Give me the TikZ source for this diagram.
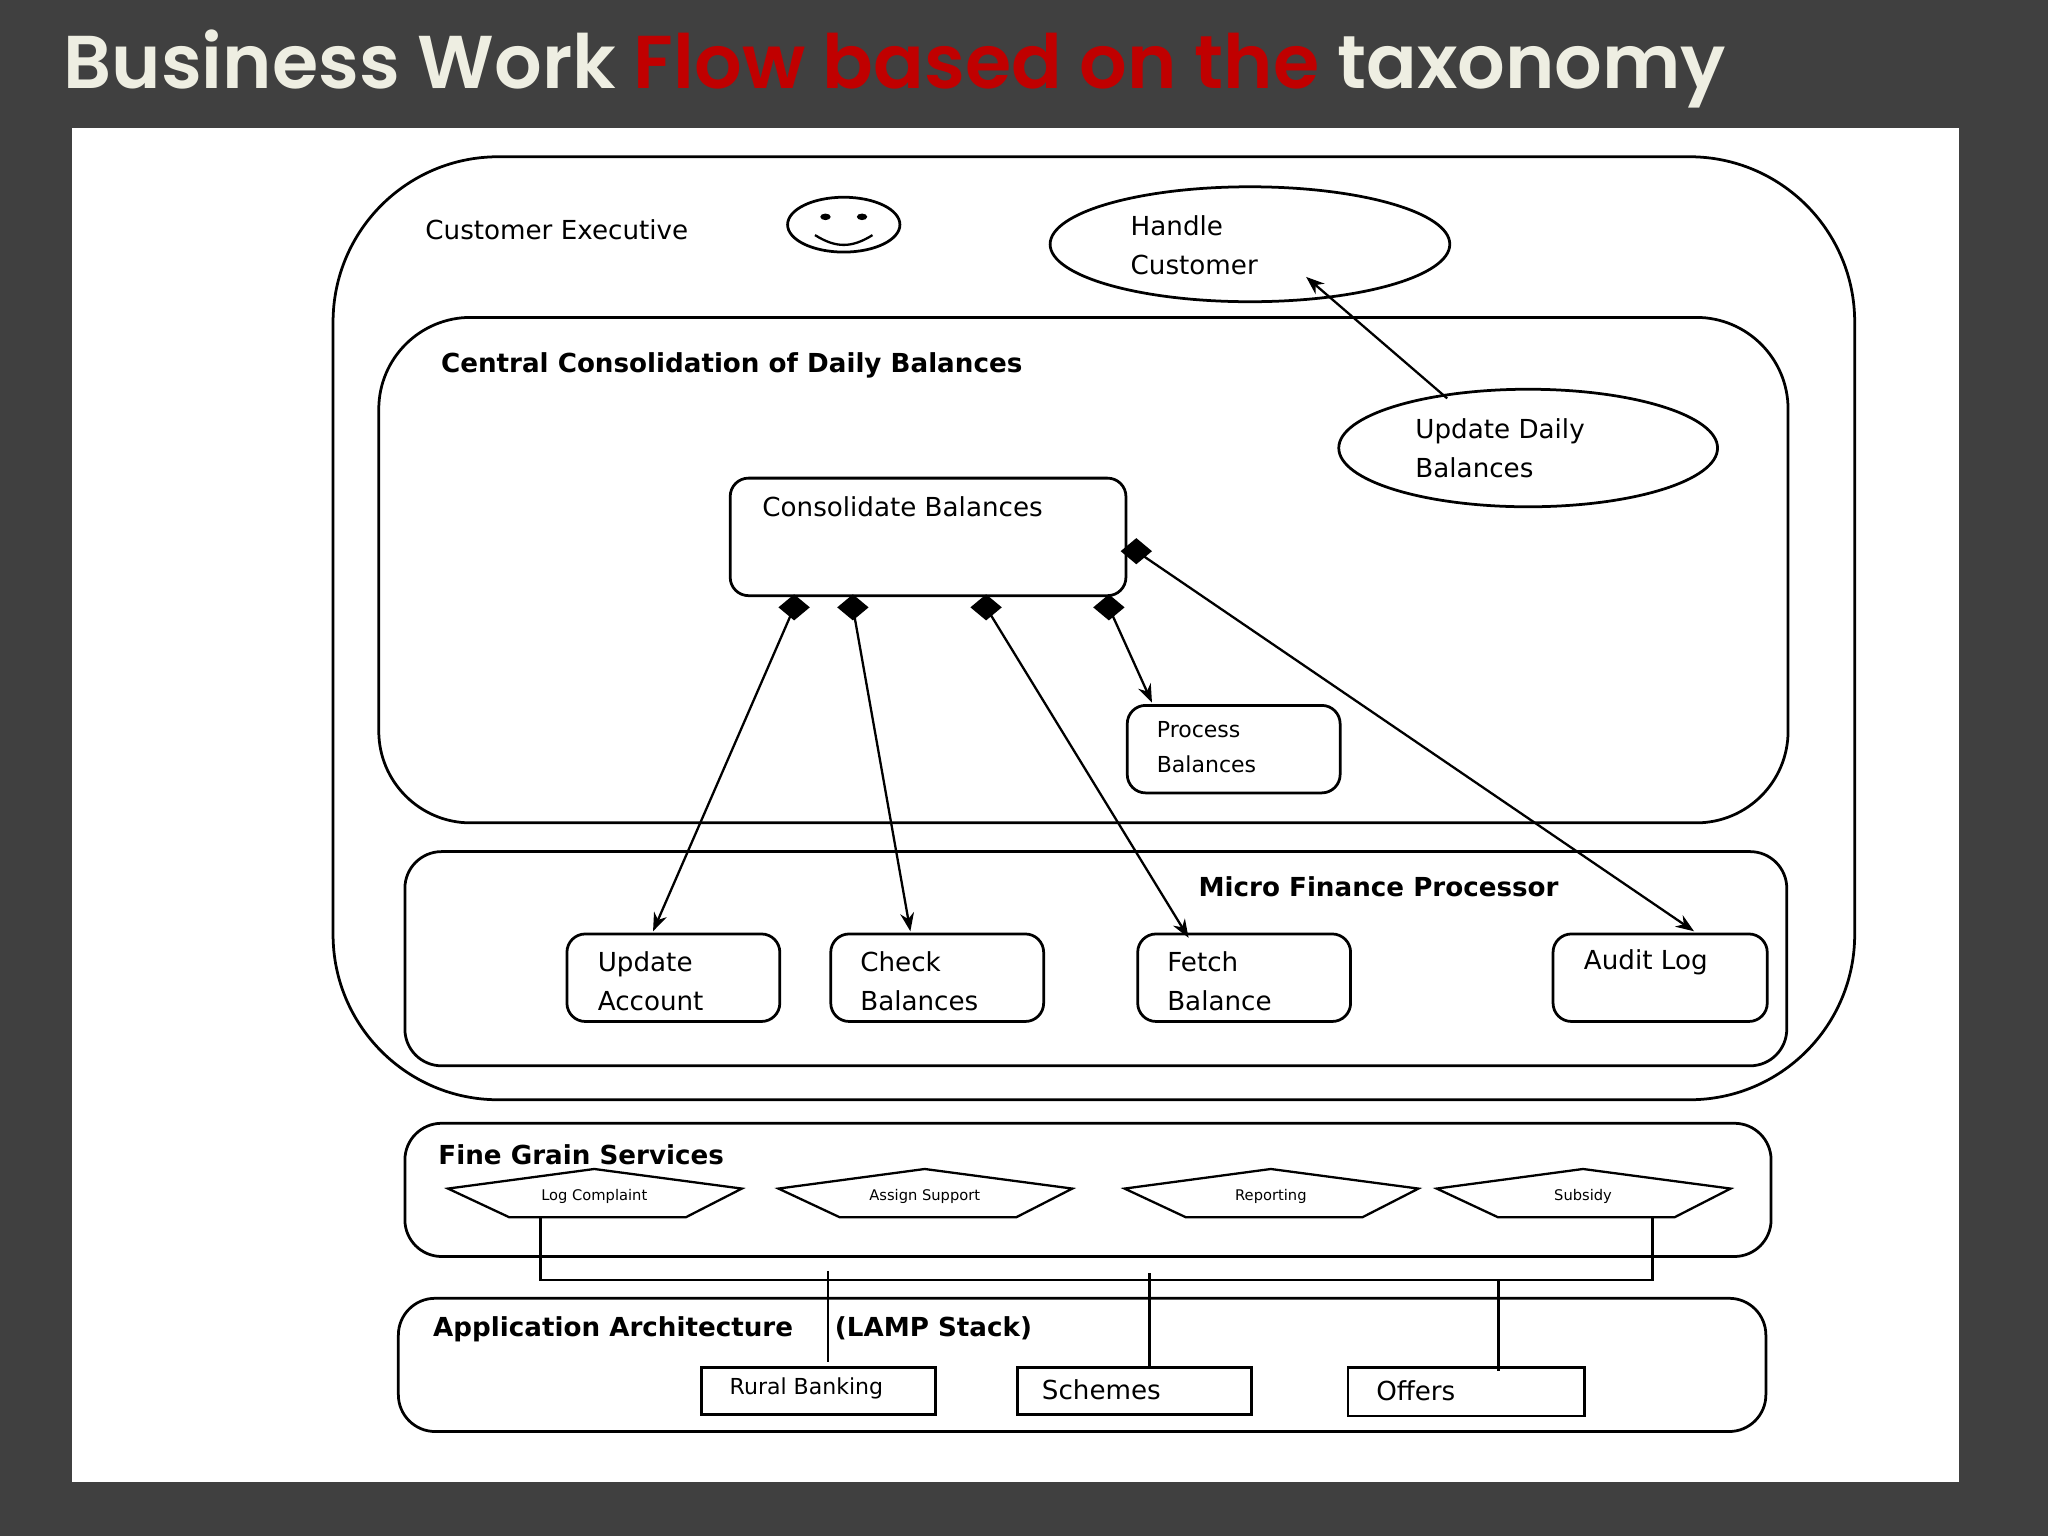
\documentclass[tikz,border=0pt]{standalone}
\usepackage{fontspec}
\setmainfont{DejaVu Sans}
\newfontfamily\titlefont{Poppins SemiBold}
\usetikzlibrary{arrows.meta}
\definecolor{bg}{HTML}{404040}
\definecolor{ttl}{HTML}{EEEEE2}
\definecolor{ttlred}{HTML}{C00000}
\tikzset{
  box/.style={draw, rounded corners=4pt, line width=0.6pt, anchor=north west, inner sep=0pt},
  sq/.style={draw, line width=0.6pt, anchor=north west, inner sep=0pt},
  lbl/.style={anchor=west, inner sep=0pt, font=\fontsize{5.7}{7.5}\selectfont, align=left},
  head/.style={lbl, font=\fontsize{5.7}{7.5}\selectfont\bfseries},
  arr/.style={-{Stealth[length=4pt,width=3pt]}, line width=0.5pt},
}
\begin{document}
\begin{tikzpicture}[x=0.1mm, y=-0.1mm]
\useasboundingbox (0,0) rectangle (1568,1176);
\fill[bg] (0,0) rectangle (1568,1176);
\fill[white] (55,98) rectangle (1500,1135);
\node[anchor=west, inner sep=0pt, font=\titlefont\fontsize{16.3}{19}\selectfont] (title) at (48,53)
  {\textcolor{ttl}{Business Work }\textcolor{ttlred}{Flow based on the }\textcolor{ttl}{taxonomy}};

% outer lane
\draw[line width=0.6pt, rounded corners=36pt] (255,120) rectangle (1420,842);
\node[lbl] (ce) at (325,176) {Customer Executive};
\draw[line width=0.6pt] (646,172) ellipse [x radius=43, y radius=21];
\fill (632,166) ellipse [x radius=4, y radius=2.5];
\fill (660,166) ellipse [x radius=4, y radius=2.5];
\draw[line width=0.5pt] (624,180) .. controls (640,190) and (652,190) .. (668,180);
\draw[line width=0.6pt] (957,187) ellipse [x radius=153, y radius=44];
\node[lbl] (hc) at (865,188) {Handle\\[1pt]Customer};
\coordinate (hcin) at (1000,212);

% central consolidation
\draw[line width=0.6pt, rounded corners=20pt] (290,243) rectangle (1369,630);
\node[head] (ccdb) at (337,280) {Central Consolidation of Daily Balances};
\draw[line width=0.6pt] (1170,343) ellipse [x radius=145, y radius=45];
\node[lbl] (udb) at (1083,343) {Update Daily\\[1pt]Balances};
\coordinate (udbtop) at (1108,305);
\draw[arr] (udbtop) -- (hcin);

\node[box, minimum width=30.3mm, minimum height=9mm] (cb) at (558,365) {};
\node[lbl] (cbt) at (583,388) {Consolidate Balances};
\node[box, minimum width=16.3mm, minimum height=6.7mm] (pb) at (862,539) {};
\node[lbl, font=\fontsize{4.8}{6.5}\selectfont] (pbt) at (885,572) {Process\\[1pt]Balances};

% micro finance
\draw[line width=0.6pt, rounded corners=8pt] (310,652) rectangle (1368,816);
\node[head] (mfp) at (917,679) {Micro Finance Processor};
\node[box, minimum width=16.3mm, minimum height=6.7mm] (ua) at (433,714) {};
\node[lbl] at (457,751) {Update\\[1pt]Account};
\node[box, minimum width=16.3mm, minimum height=6.7mm] (chk) at (635,714) {};
\node[lbl] at (658,751) {Check\\[1pt]Balances};
\node[box, minimum width=16.3mm, minimum height=6.7mm] (fb) at (870,714) {};
\node[lbl] at (893,751) {Fetch\\[1pt]Balance};
\node[box, minimum width=16.4mm, minimum height=6.7mm] (al) at (1188,714) {};
\node[lbl] at (1212,737) {Audit Log};

% diamonds and links
\foreach \n/\x/\y in {d1/608/465, d2/653/465, d3/755/465, d4/849/465, d5/870/422}{
  \coordinate (\n) at (\x,\y);
  \fill (\x-12,\y) -- (\x,\y-10) -- (\x+12,\y) -- (\x,\y+10) -- cycle;
}
\coordinate (uain) at (500,713);
\coordinate (chkin) at (697,713);
\coordinate (fbin) at (910,718);
\coordinate (pbin) at (882,538);
\coordinate (alin) at (1297,713);
\draw[arr] (d1) -- (uain);
\draw[arr] (d2) -- (chkin);
\draw[arr] (d3) -- (fbin);
\draw[arr] (d4) -- (pbin);
\draw[arr] (d5) -- (alin);

% fine grain services
\draw[line width=0.6pt, rounded corners=8pt] (310,860) rectangle (1356,962);
\node[head] (fgs) at (335,884) {Fine Grain Services};
\foreach \n/\c/\t in {lc/455/Log Complaint, as/708/Assign Support, rp/973/Reporting, sb/1212/Subsidy}{
  \draw[line width=0.5pt] (\c-112,910) -- (\c,895) -- (\c+113,910) -- (\c+70,932) -- (\c-65,932) -- cycle;
  \node[inner sep=0pt, font=\fontsize{3.2}{4}\selectfont] (\n) at (\c,916) {\t};
}
\coordinate (lcb) at (414,932);
\coordinate (sbb) at (1265,932);
\draw[line width=0.6pt] (lcb) -- (414,980) -- (1265,980) -- (sbb);

% application architecture
\draw[line width=0.6pt, rounded corners=8pt] (305,994) rectangle (1352,1096);
\node[head] (aa) at (331,1018) {Application Architecture\hspace{3.2mm}(LAMP Stack)};
\node[sq, minimum width=17.9mm, minimum height=3.6mm] (rb) at (536,1046) {};
\node[lbl, font=\fontsize{4.8}{6.5}\selectfont] at (558,1063) {Rural Banking};
\node[sq, minimum width=17.9mm, minimum height=3.6mm] (sc) at (778,1046) {};
\node[lbl] at (797,1064) {Schemes};
\node[sq, minimum width=18.1mm, minimum height=3.7mm] (of) at (1031,1046) {};
\node[lbl] at (1053,1065) {Offers};
\coordinate (b1) at (634,973);
\coordinate (b2) at (880,975);
\coordinate (b3) at (1147,980);
\draw[line width=0.6pt] (b1) -- (634,1043);
\draw[line width=0.6pt] (b2) -- (sc.north -| b2);
\draw[line width=0.6pt] (b3) -- (1147,1050);
\end{tikzpicture}
\end{document}
